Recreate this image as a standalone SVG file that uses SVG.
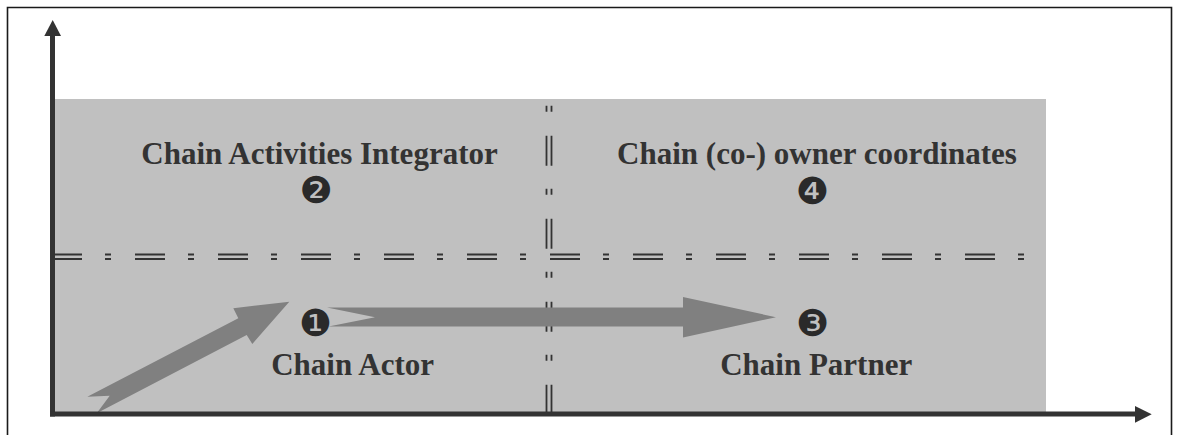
<svg xmlns="http://www.w3.org/2000/svg" width="1179" height="435" viewBox="0 0 1179 435">
  <style>
    .frame { fill: none; stroke: #1a1a1a; stroke-width: 1.6; }
    .field { fill: #c0c0c0; }
    .divider { fill: none; stroke: #333333; stroke-width: 1.8; stroke-dasharray: 30 23 6 24; }
    .flow { fill: #808080; }
    .axis { fill: none; stroke: #333333; stroke-width: 5; }
    .axis-head { fill: #333333; }
    .label { font-family: "Liberation Serif", "Times New Roman", serif; font-weight: bold; font-size: 31px; fill: #333333; text-anchor: middle; }
    .badge { font-family: "DejaVu Sans", sans-serif; font-size: 37px; fill: #2a2a2a; text-anchor: middle; dominant-baseline: central; }
  </style>

  <!-- page frame (open at the bottom) -->
  <path class="frame" d="M7.5 435 V7.5 H1171.5 V435"/>

  <!-- shaded quadrant field -->
  <rect id="field" class="field" x="55" y="99" width="991" height="315"/>

  <!-- quadrant dividers: double dash-dot lines -->
  <g id="dividers">
    <line class="divider" x1="52" y1="254.5" x2="1024" y2="254.5"/>
    <line class="divider" x1="52" y1="259" x2="1024" y2="259"/>
    <line class="divider" x1="546.5" y1="99" x2="546.5" y2="413" stroke-dashoffset="46.3"/>
    <line class="divider" x1="551.5" y1="99" x2="551.5" y2="413" stroke-dashoffset="46.3"/>
  </g>

  <!-- block arrows between quadrants -->
  <g id="connectors">
    <polygon id="flow-diagonal" class="flow" points="87.3,396.7 238.3,318.3 233.3,308.3 289.3,301.7 252.3,344 246.7,335 96.7,413.3 109.7,395.7"/>
    <polygon id="flow-horizontal" class="flow" points="327,307.5 683,307.5 683,297 776,317.2 683,337.5 683,326.5 328.5,326.5 375,317.2"/>
  </g>

  <!-- axes -->
  <g id="axes">
    <line class="axis" x1="52.5" y1="34" x2="52.5" y2="416.5"/>
    <polygon class="axis-head" points="52.7,20 61,36 44.3,36"/>
    <line class="axis" x1="50" y1="414" x2="1137" y2="414"/>
    <polygon class="axis-head" points="1151.7,414.3 1135,406 1135,422.7"/>
  </g>

  <!-- quadrant 2: top left -->
  <g id="node-integrator">
    <text class="label" x="319.5" y="164">Chain Activities Integrator</text>
    <text class="badge" x="316" y="190.7">❷</text>
  </g>

  <!-- quadrant 4: top right -->
  <g id="node-owner">
    <text class="label" x="817" y="164">Chain (co-) owner coordinates</text>
    <text class="badge" x="812.3" y="191">❹</text>
  </g>

  <!-- quadrant 1: bottom left -->
  <g id="node-actor">
    <text class="badge" x="315.7" y="323.3">❶</text>
    <text class="label" x="352.6" y="375">Chain Actor</text>
  </g>

  <!-- quadrant 3: bottom right -->
  <g id="node-partner">
    <text class="badge" x="812.7" y="323.3">❸</text>
    <text class="label" x="816.2" y="375">Chain Partner</text>
  </g>
</svg>
